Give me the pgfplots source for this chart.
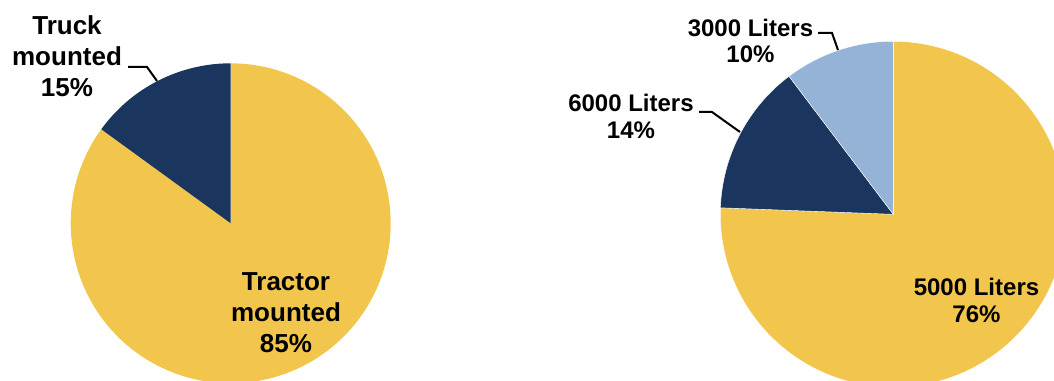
\documentclass[border=0pt]{standalone}
\usepackage{pgfplots}
\pgfplotsset{compat=1.18}
\usepackage{fontspec}
\setmainfont{Liberation Sans}
\definecolor{pieyellow}{RGB}{242,198,76}
\definecolor{pienavy}{RGB}{26,54,94}
\definecolor{pielight}{RGB}{149,179,215}
\begin{document}
\begin{tikzpicture}
% data (percent, as drawn)
\def\Tractor{85}\def\Truck{15}
\def\Lfive{75.6}\def\Lsix{14.1}\def\Lthree{10.3}
\pgfmathsetmacro{\aL}{90-3.6*\Tractor}
\pgfmathsetmacro{\aR}{90-3.6*\Lfive}
\pgfmathsetmacro{\bR}{\aR-3.6*\Lsix}
\begin{axis}[
  scale only axis, width=1054pt, height=380pt,
  xmin=0, xmax=1054, ymin=-380, ymax=0,
  hide axis, clip=true,
]
\coordinate (ll) at (rel axis cs:0,0);
\coordinate (ur) at (rel axis cs:1,1);
% left pie
\addplot[fill=pieyellow, draw=none, domain=\aL:90, samples=150, variable=\t]
  ({230.7+160*cos(\t)}, {-223.3+160*sin(\t)}) -- (axis cs:230.7,-223.3) -- cycle;
\addplot[fill=pienavy, draw=none, domain=90:\aL+360, samples=40, variable=\t]
  ({230.7+160*cos(\t)}, {-223.3+160*sin(\t)}) -- (axis cs:230.7,-223.3) -- cycle;
% right pie
\addplot[fill=pieyellow, draw=white, line width=0.4pt, domain=\aR:90, samples=150, variable=\t]
  ({893.3+173*cos(\t)}, {-214.3+173*sin(\t)}) -- (axis cs:893.3,-214.3) -- cycle;
\addplot[fill=pienavy, draw=white, line width=0.4pt, domain=\bR:\aR, samples=40, variable=\t]
  ({893.3+173*cos(\t)}, {-214.3+173*sin(\t)}) -- (axis cs:893.3,-214.3) -- cycle;
\addplot[fill=pielight, draw=white, line width=0.4pt, domain=90:\bR+360, samples=40, variable=\t]
  ({893.3+173*cos(\t)}, {-214.3+173*sin(\t)}) -- (axis cs:893.3,-214.3) -- cycle;
% leader lines
\draw[black, line width=2pt] (axis cs:128,-67) -- (axis cs:147,-67) -- (axis cs:157,-81);
\draw[black, line width=2pt] (axis cs:699,-112) -- (axis cs:712,-112) -- (axis cs:740,-132);
\draw[black, line width=2pt] (axis cs:818,-33) -- (axis cs:832,-33) -- (axis cs:838,-50);
% labels
\node[inner sep=0pt, align=center, font={\fontsize{26}{31}\selectfont\bfseries}] at (axis cs:67,-56) {Truck\\mounted\\15\%};
\node[inner sep=0pt, align=center, font={\fontsize{26}{31}\selectfont\bfseries}] at (axis cs:286,-313) {Tractor\\mounted\\85\%};
\node[inner sep=0pt, align=center, font={\fontsize{24}{26.5}\selectfont\bfseries}] at (axis cs:631,-116.5) {6000 Liters\\14\%};
\node[inner sep=0pt, align=center, font={\fontsize{24}{26.5}\selectfont\bfseries}] at (axis cs:750.5,-41) {3000 Liters\\10\%};
\node[inner sep=0pt, align=center, font={\fontsize{24}{26.5}\selectfont\bfseries}] at (axis cs:976.5,-300.5) {5000 Liters\\76\%};
\end{axis}
\pgfresetboundingbox
\path (ll) rectangle (ur);
\end{tikzpicture}
\end{document}
